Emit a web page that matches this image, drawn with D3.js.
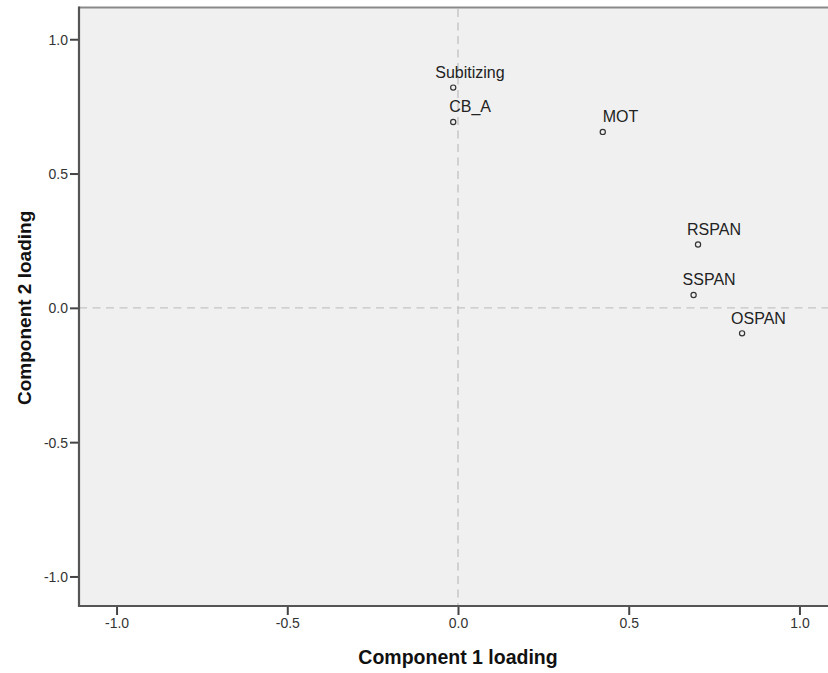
<!DOCTYPE html>
<html>
<head>
<meta charset="utf-8">
<script src="https://cdn.jsdelivr.net/npm/d3@7"></script>
<style>
  html, body { margin: 0; padding: 0; background: #ffffff; }
  svg { display: block; }
  text { font-family: "Liberation Sans", Arial, sans-serif; }
</style>
</head>
<body>
<svg id="chart" width="828" height="673"></svg>
<script>
// ---- data ----
const variables = ["Subitizing", "CB_A", "MOT", "RSPAN", "SSPAN", "OSPAN"];
const component1 = [-0.014, -0.014, 0.424, 0.703, 0.690, 0.832];
const component2 = [0.820, 0.692, 0.655, 0.236, 0.048, -0.095];
const tickValues = [-1.0, -0.5, 0.0, 0.5, 1.0];
const tickLabels = ["-1.0", "-0.5", "0.0", "0.5", "1.0"];
const xTitle = "Component 1 loading";
const yTitle = "Component 2 loading";

// ---- label placement (layout only) ----
const labelDx = [-18, -4, 0, -11, -11, -11];

const svg = d3.select("#chart");
const plot = { left: 79, right: 837, top: 7, bottom: 606 };

const x = d3.scaleLinear().domain([-1.11, 1.11]).range([plot.left, plot.right]);
const y = d3.scaleLinear().domain([-1.11, 1.12]).range([plot.bottom, plot.top]);

// background
svg.append("rect")
  .attr("x", plot.left).attr("y", plot.top)
  .attr("width", plot.right - plot.left).attr("height", plot.bottom - plot.top)
  .attr("fill", "#f0f0f0");

// top border
svg.append("line")
  .attr("x1", plot.left).attr("x2", plot.right)
  .attr("y1", plot.top + 0.5).attr("y2", plot.top + 0.5)
  .attr("stroke", "#8a8a8a").attr("stroke-width", 2);

// reference lines
svg.append("line")
  .attr("x1", x(0)).attr("x2", x(0))
  .attr("y1", plot.top + 2).attr("y2", plot.bottom)
  .attr("stroke", "#c4c4c4").attr("stroke-width", 1.4)
  .attr("stroke-dasharray", "8,5.5");
svg.append("line")
  .attr("x1", plot.left).attr("x2", plot.right)
  .attr("y1", y(0)).attr("y2", y(0))
  .attr("stroke", "#c4c4c4").attr("stroke-width", 1.4)
  .attr("stroke-dasharray", "8,5.5");

// axes
const fmt = (d) => tickLabels[tickValues.indexOf(d)];
const xAxis = d3.axisBottom(x).tickValues(tickValues).tickFormat(fmt).tickSize(9).tickSizeOuter(0);
const yAxis = d3.axisLeft(y).tickValues(tickValues).tickFormat(fmt).tickSize(9).tickSizeOuter(0);

const gx = svg.append("g").attr("transform", `translate(0,${plot.bottom})`).call(xAxis);
const gy = svg.append("g").attr("transform", `translate(${plot.left},0)`).call(yAxis);

[gx, gy].forEach(g => {
  g.select(".domain").remove();
  g.selectAll(".tick line").attr("stroke", "#444").attr("stroke-width", 2);
  g.selectAll(".tick text")
    .attr("fill", "#333")
    .style("font-size", "14px")
    .style("font-family", "'Liberation Sans', Arial, sans-serif");
});
gx.selectAll(".tick text").attr("y", 12).attr("dy", "0.71em");
gy.selectAll(".tick text").attr("x", -11).attr("dy", "0.36em");

// axis lines
svg.append("line")
  .attr("x1", plot.left).attr("x2", plot.left)
  .attr("y1", plot.top - 0.5).attr("y2", plot.bottom + 1)
  .attr("stroke", "#555").attr("stroke-width", 2.2);
svg.append("line")
  .attr("x1", plot.left - 1).attr("x2", plot.right)
  .attr("y1", plot.bottom).attr("y2", plot.bottom)
  .attr("stroke", "#555").attr("stroke-width", 2.2);

// points
const pts = variables.map((v, i) => ({ name: v, c1: component1[i], c2: component2[i], dx: labelDx[i] }));

svg.append("g").selectAll("circle").data(pts).join("circle")
  .attr("cx", d => x(d.c1)).attr("cy", d => y(d.c2))
  .attr("r", 2.6)
  .attr("fill", "none")
  .attr("stroke", "#333").attr("stroke-width", 1.2);

svg.append("g").selectAll("text").data(pts).join("text")
  .attr("x", d => x(d.c1) + d.dx)
  .attr("y", d => y(d.c2) - 9.5)
  .attr("fill", "#222")
  .style("font-size", "16px")
  .text(d => d.name);

// axis titles
svg.append("text")
  .attr("x", x(0)).attr("y", 664)
  .attr("text-anchor", "middle")
  .attr("fill", "#111")
  .style("font-size", "19.5px").style("font-weight", "bold")
  .text(xTitle);

svg.append("text")
  .attr("transform", `translate(31,${y(0)}) rotate(-90)`)
  .attr("text-anchor", "middle")
  .attr("fill", "#111")
  .style("font-size", "19px").style("font-weight", "bold")
  .text(yTitle);
</script>
</body>
</html>
